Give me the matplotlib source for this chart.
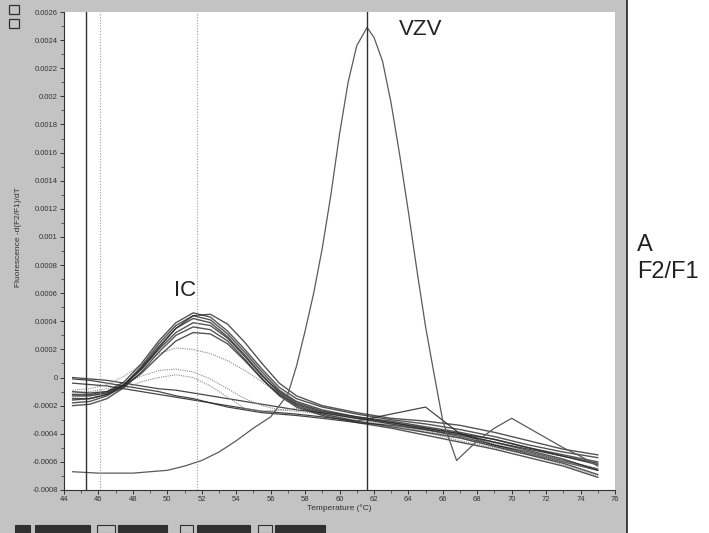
import matplotlib
matplotlib.use("Agg")
import matplotlib.pyplot as plt
from matplotlib.patches import Rectangle
from matplotlib.lines import Line2D
import numpy as np

# temperature grid for the IC / control curves (deg C)
temp = [44.5, 45.5, 46.5, 47.5, 48.5, 49.5, 50.5, 51.5, 52.5, 53.5, 54.5, 55.5,
        56.5, 57.5, 59, 61, 63, 65, 67, 69, 71, 73, 75]

# -d(F2/F1)/dT values, in units of 1e-4
ic_curves = [
    [-1.2, -1.2, -1.0, -0.3, 1.0, 2.6, 3.9, 4.6, 4.3, 3.3, 2.0, 0.6, -0.7, -1.5, -2.1, -2.6, -3.0, -3.3, -3.7, -4.2, -4.8, -5.3, -5.7],
    [-1.5, -1.5, -1.2, -0.5, 0.8, 2.4, 3.7, 4.4, 4.1, 3.1, 1.8, 0.4, -0.9, -1.7, -2.3, -2.8, -3.1, -3.5, -3.9, -4.4, -5.0, -5.6, -6.2],
    [-1.8, -1.7, -1.3, -0.6, 0.7, 2.2, 3.5, 4.2, 3.9, 2.9, 1.6, 0.2, -1.1, -1.9, -2.5, -2.9, -3.3, -3.7, -4.1, -4.6, -5.2, -5.8, -6.6],
    [-1.3, -1.3, -1.1, -0.5, 0.6, 2.0, 3.2, 3.9, 3.7, 2.8, 1.5, 0.1, -1.0, -1.8, -2.4, -2.8, -3.2, -3.6, -4.0, -4.4, -5.0, -5.5, -6.0],
    [-2.0, -1.9, -1.5, -0.7, 0.4, 1.8, 3.0, 3.6, 3.4, 2.6, 1.3, -0.1, -1.2, -2.0, -2.6, -3.1, -3.5, -3.9, -4.3, -4.9, -5.5, -6.1, -6.9],
    [-1.6, -1.5, -1.2, -0.6, 0.3, 1.5, 2.6, 3.2, 3.1, 2.4, 1.2, -0.1, -1.3, -2.1, -2.7, -3.2, -3.6, -4.1, -4.6, -5.1, -5.7, -6.3, -7.1],
    [-1.0, -1.1, -1.0, -0.5, 0.6, 2.1, 3.5, 4.4, 4.5, 3.8, 2.5, 1.0, -0.4, -1.3, -2.0, -2.5, -2.9, -3.1, -3.4, -3.9, -4.5, -5.1, -5.5],
]
faint_curves = [
    [-0.9, -0.8, -0.5, 0.1, 0.9, 1.7, 2.1, 2.0, 1.7, 1.2, 0.5, -0.3, -1.2, -1.9, -2.4, -2.9, -3.3, -3.7, -4.2, -4.7, -5.3, -5.9, -6.5],
    [-1.1, -1.0, -0.8, -0.4, 0.1, 0.5, 0.6, 0.4, -0.1, -0.8, -1.5, -2.0, -2.3, -2.4, -2.6, -3.0, -3.4, -3.8, -4.3, -4.9, -5.4, -6.0, -6.6],
    [-1.4, -1.3, -1.1, -0.8, -0.3, 0.0, 0.2, 0.0, -0.6, -1.4, -2.2, -2.4, -2.3, -2.2, -2.4, -2.8, -3.3, -3.9, -4.5, -5.0, -5.5, -6.2, -7.0],
]
neg_curves = [
    [0.0, -0.1, -0.2, -0.4, -0.6, -0.8, -0.9, -1.1, -1.3, -1.5, -1.7, -1.9, -2.1, -2.3, -2.5, -2.9, -3.2, -3.6, -4.0, -4.6, -5.1, -5.6, -6.1],
    [-0.4, -0.5, -0.6, -0.8, -1.0, -1.2, -1.4, -1.6, -1.8, -2.0, -2.2, -2.4, -2.5, -2.6, -2.8, -3.1, -2.6, -2.1, -4.0, -4.8, -5.3, -5.9, -6.5],
    [-0.1, -0.2, -0.4, -0.6, -0.8, -1.0, -1.3, -1.5, -1.8, -2.1, -2.3, -2.5, -2.6, -2.7, -2.9, -3.2, -3.4, -3.7, -4.2, -4.8, -5.4, -6.0, -6.6],
]

# VZV positive sample
vzv_temp = [44.5, 46, 48, 50, 51, 52, 53, 54, 55, 56, 57, 57.5, 58, 58.5, 59, 59.5, 60, 60.5, 61,
            61.6, 62, 62.5, 63, 63.5, 64, 64.5, 65, 65.5, 66, 66.8, 68, 69, 70, 71, 72, 73, 74, 75]
vzv_vals = [-6.7, -6.8, -6.8, -6.6, -6.3, -5.9, -5.3, -4.5, -3.6, -2.8, -1.2, 0.8, 3.3, 6.0, 9.2, 13.0,
            17.3, 21.0, 23.6, 24.9, 24.2, 22.5, 19.5, 15.8, 11.8, 7.6, 3.6, 0.2, -3.1, -5.9, -4.5, -3.6,
            -2.9, -3.6, -4.3, -5.0, -5.6, -6.3]

# marker lines (deg C): solid, dotted
solid_lines = [45.3, 61.6]
dotted_lines = [46.1, 51.7]

yticks = [-0.0008, -0.0006, -0.0004, -0.0002, 0, 0.0002, 0.0004, 0.0006, 0.0008, 0.001,
          0.0012, 0.0014, 0.0016, 0.0018, 0.002, 0.0022, 0.0024, 0.0026]
ytick_labels = ["-0.0008", "-0.0006", "-0.0004", "-0.0002", "0", "0.0002", "0.0004", "0.0006",
                "0.0008", "0.001", "0.0012", "0.0014", "0.0016", "0.0018", "0.002", "0.0022",
                "0.0024", "0.0026"]
xticks = list(range(44, 77, 2))


def main():
    plt.rcParams['font.family'] = ['Liberation Sans', 'DejaVu Sans']
    fig = plt.figure(figsize=(7.09, 5.33), dpi=100)
    fig.patch.set_facecolor("white")

    # grey software panel behind the plot
    fig.patches.append(Rectangle((0, 0), 627 / 709, 1, transform=fig.transFigure,
                                 facecolor="#c3c3c3", edgecolor="none", zorder=-10))
    fig.lines.append(Line2D([627 / 709, 627 / 709], [0, 1], transform=fig.transFigure,
                            color="#222222", linewidth=1.2))
    # toolbar bits along the bottom
    for x0, w, filled in [(15, 15, True), (35, 55, True), (97, 18, False), (118, 49, True),
                          (180, 13, False), (197, 53, True), (258, 14, False), (275, 50, True)]:
        fig.patches.append(Rectangle((x0 / 709, 0), w / 709, 8 / 533, transform=fig.transFigure,
                                     facecolor="#303030" if filled else "#c3c3c3",
                                     edgecolor="#303030", linewidth=0.8))
    # little icons top left
    fig.patches.append(Rectangle((9 / 709, 1 - 28 / 533), 10 / 709, 9 / 533, transform=fig.transFigure,
                                 facecolor="none", edgecolor="#303030", linewidth=0.9))
    fig.patches.append(Rectangle((9 / 709, 1 - 14 / 533), 10 / 709, 9 / 533, transform=fig.transFigure,
                                 facecolor="none", edgecolor="#303030", linewidth=0.9))

    ax = fig.add_axes([64 / 709, 43 / 533, 551 / 709, 478 / 533])
    ax.set_zorder(5)
    ax.set_facecolor("white")

    t = np.array(temp)
    for vals in neg_curves:
        ax.plot(t, np.array(vals) * 1e-4, color="#262626", linewidth=0.9, alpha=0.85)
    for vals in faint_curves:
        ax.plot(t, np.array(vals) * 1e-4, color="#8a8a8a", linewidth=0.8, linestyle=(0, (1, 1)))
    for vals in ic_curves:
        ax.plot(t, np.array(vals) * 1e-4, color="#2a2a2a", linewidth=1.0, alpha=0.8)
    ax.plot(vzv_temp, np.array(vzv_vals) * 1e-4, color="#5a5a5a", linewidth=0.9)

    for x in solid_lines:
        ax.axvline(x, color="#303030", linewidth=1.0)
    for x in dotted_lines:
        ax.axvline(x, color="#9a9a9a", linewidth=0.8, linestyle=(0, (1, 1.5)))

    ax.set_xlim(44, 76)
    ax.set_ylim(-0.0008, 0.0026)
    ax.set_xticks(xticks)
    ax.set_xticks(np.arange(44, 77, 1), minor=True)
    ax.set_yticks(yticks)
    ax.set_yticklabels(ytick_labels)
    ax.set_yticks(np.arange(-0.0008, 0.00261, 0.0001), minor=True)
    ax.tick_params(axis="both", which="major", labelsize=5.5, length=3, width=0.7,
                   colors="#333333", pad=1.5)
    ax.tick_params(axis="both", which="minor", length=2, width=0.5, colors="#333333")
    for s in ["top", "right"]:
        ax.spines[s].set_visible(False)
    for s in ["left", "bottom"]:
        ax.spines[s].set_color("#333333")
        ax.spines[s].set_linewidth(0.8)

    ax.set_xlabel("Temperature (°C)", fontsize=6, color="#333333", labelpad=1)
    ax.set_ylabel("Fluorescence -d(F2/F1)/dT", fontsize=6, color="#333333")
    ax.yaxis.set_label_coords(-0.076, 0.53)

    ax.text(0.648, 0.963, "VZV", transform=ax.transAxes, fontsize=16, ha="center", va="center",
            color="#222222")
    ax.text(0.219, 0.418, "IC", transform=ax.transAxes, fontsize=16, ha="center", va="center",
            color="#222222")
    fig.text(637 / 709, 1 - 245 / 533, "A", fontsize=17, ha="left", va="center", color="#222222")
    fig.text(637 / 709, 1 - 272 / 533, "F2/F1", fontsize=17, ha="left", va="center", color="#222222")

    fig.savefig("out.png", dpi=100)
    plt.close(fig)


if __name__ == "__main__":
    main()
